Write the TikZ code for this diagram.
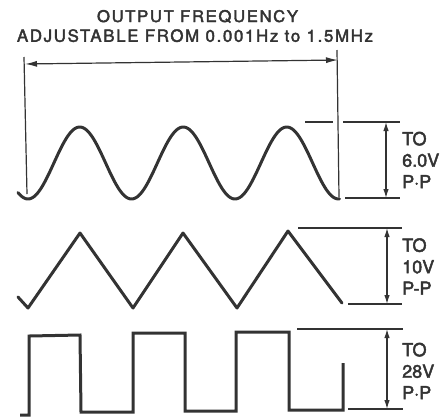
\documentclass[tikz,border=0pt]{standalone}
\usepackage{fontspec}
\setmainfont{TeX Gyre Heros}
\newfontfamily\medfont{TeX Gyre Heros}[FakeBold=2.5]
\newfontfamily\headfont{TeX Gyre Heros}[FakeBold=2.5,LetterSpace=10]
\usetikzlibrary{arrows.meta}
\definecolor{ink}{HTML}{333333}
\begin{document}
\begin{tikzpicture}[x=1pt,y=-1pt,
  wave/.style={line width=3pt, draw=ink, line join=round, line cap=round},
  guide/.style={line width=1.2pt, draw=ink},
  dimarrow/.style={line width=1.2pt, draw=ink, {Latex[length=9pt,width=5.5pt]}-{Latex[length=9pt,width=5.5pt]}},
  spanarrow/.style={line width=1.2pt, draw=ink, {Latex[length=12pt,width=6pt]}-{Latex[length=12pt,width=6pt]}},
  lbl/.style={anchor=west, text=ink, font=\medfont\fontsize{18}{21.5}\selectfont, inner sep=0pt, align=left},
  head/.style={text=ink, inner sep=0pt, text depth=0pt, font=\headfont\fontsize{16.5}{18}\selectfont}]
\useasboundingbox (0,0) rectangle (446,416);

% heading
\node[head] (title1) at (197.5,16) {\resizebox{201pt}{12pt}{OUTPUT FREQUENCY}};
\node[head] (title2) at (195,35.5) {\resizebox{356pt}{12.5pt}{ADJUSTABLE FROM 0.001Hz to 1.5MHz}};

% span lines and arrow
\coordinate (vlt) at (24,57);
\coordinate (vlb) at (27,194);
\coordinate (vrt) at (337,50);
\coordinate (vrb) at (339,197);
\coordinate (spanL) at (25,64);
\coordinate (spanR) at (338,60);
\draw[guide] (vlt) -- (vlb);
\draw[guide] (vrt) -- (vrb);
\draw[spanarrow] (spanL) -- (spanR);

% sine wave
\draw[wave] plot[domain=18:339.5, samples=200] (\x, {163+36*cos(3.47826*(\x-28))});
\coordinate (sTa) at (305,122);
\coordinate (sTb) at (333,122);
\coordinate (sTc) at (343,122);
\coordinate (sTd) at (400,122);
\coordinate (sBa) at (345,198);
\coordinate (sBb) at (400,198);
\coordinate (sAt) at (386,122);
\coordinate (sAb) at (386,198);
\draw[guide] (sTa) -- (sTb);
\draw[guide] (sTc) -- (sTd);
\draw[guide] (sBa) -- (sBb);
\draw[dimarrow] (sAt) -- (sAb);
\node[lbl] (sinelbl) at (402,160) {TO\\6.0V\\P·P};

% triangle wave
\draw[wave] (18,297) -- (28,308) -- (80,233) -- (133,308) -- (183,233) -- (237,308) -- (288,231) -- (342,303);
\coordinate (tTa) at (298,228);
\coordinate (tTb) at (402,228);
\coordinate (tBa) at (348,304);
\coordinate (tBb) at (402,304);
\coordinate (tAt) at (387,228);
\coordinate (tAb) at (387,304);
\draw[guide] (tTa) -- (tTb);
\draw[guide] (tBa) -- (tBb);
\draw[dimarrow] (tAt) -- (tAb);
\node[lbl] (trilbl) at (402,266.5) {TO\\10V\\P-P};

% square wave
\draw[wave, line cap=butt, line join=miter] (20,415) -- (29,415) -- (29,336) -- (80,335) -- (81,412) -- (133,412) -- (133,333) -- (185,333) -- (185,411) -- (236,411) -- (236,332) -- (289,332) -- (289,410) -- (343,410) -- (343,363);
\coordinate (qTa) at (297,329);
\coordinate (qTb) at (403,329);
\coordinate (qBa) at (348,409);
\coordinate (qBb) at (403,409);
\coordinate (qAt) at (387,329);
\coordinate (qAb) at (387,409);
\draw[guide] (qTa) -- (qTb);
\draw[guide] (qBa) -- (qBb);
\draw[dimarrow] (qAt) -- (qAb);
\node[lbl] (sqlbl) at (402,371) {TO\\28V\\P·P};
\end{tikzpicture}
\end{document}
